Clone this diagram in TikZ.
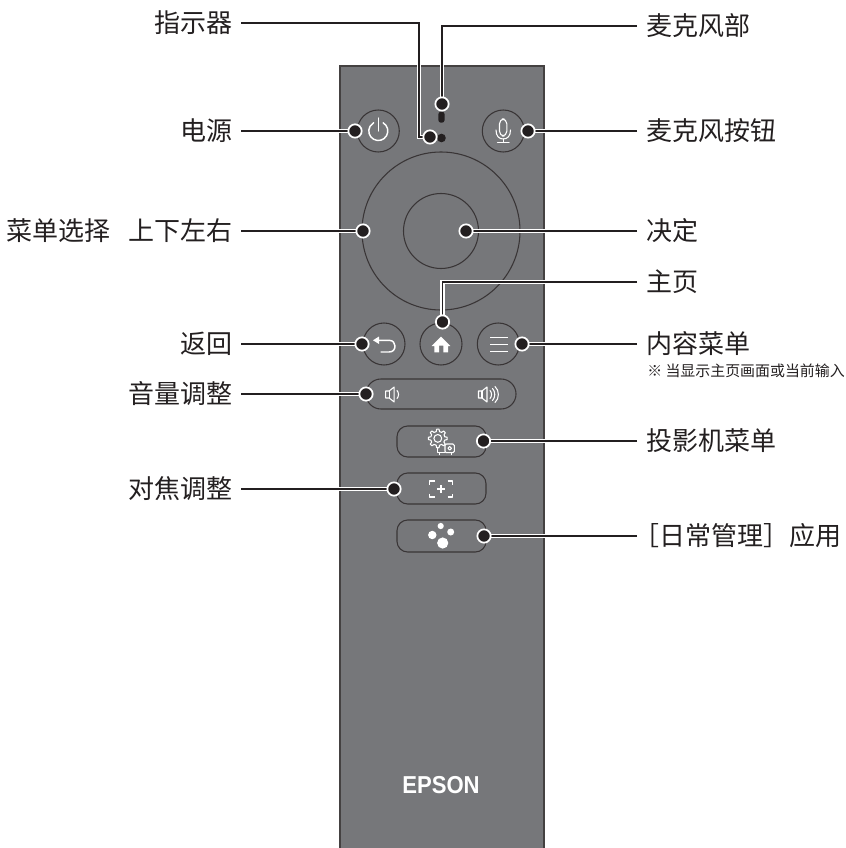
\documentclass[tikz,border=0pt]{standalone}
\usepackage{fontspec}
\setmainfont{Liberation Sans}
\newfontfamily\cjk{Noto Sans CJK SC}
\definecolor{ink}{HTML}{231F20}
\definecolor{bodygrey}{HTML}{76777A}
\tikzset{
  lblbase/.style={text=ink,font=\cjk\fontsize{19.5}{21}\selectfont,text height=17.2pt,text depth=2.3pt,inner ysep=0pt},
  leftlbl/.style={lblbase,anchor=east,inner xsep=6pt},
  rightlbl/.style={lblbase,anchor=west,inner xsep=6.75pt},
  conn/.style={draw=ink,line width=1.2pt,preaction={draw=white,line width=3.4pt}},
  dotmark/.style={circle,fill=ink,draw=white,line width=1.3pt,inner sep=0pt,minimum size=10pt},
  outline/.style={draw=ink!90!white,line width=0.8pt},
  icon/.style={draw=white,line width=1.1pt,line cap=round,line join=round},
  thinicon/.style={draw=white,line width=0.8pt,line cap=round,line join=round},
}
\newcommand{\speakerat}[2]{%
  \draw[thinicon] (#1,#2-3.5) -- (#1+3.5,#2-3.5) -- (#1+8.5,#2-7.5) -- (#1+8.5,#2+7.5) -- (#1+3.5,#2+3.5) -- (#1,#2+3.5) -- cycle;
  \draw[thinicon] (#1+3.5,#2-3.5) -- (#1+3.5,#2+3.5);
}
\begin{document}
\begin{tikzpicture}[x=0.75pt,y=-0.75pt]
\useasboundingbox (0,0) rectangle (845,848);
\begin{scope}
\clip (0,0) rectangle (845,848);
\draw[fill=bodygrey,draw=ink!85!white,line width=0.8pt] (340,66) rectangle (544,860);
\end{scope}
% buttons
\draw[outline] (378.3,131) circle (21);
\draw[outline] (503.3,131) circle (21);
\draw[outline] (441,231) circle (79);
\draw[outline] (441,231) circle (37.5);
\draw[outline] (384,344) circle (21);
\draw[outline] (441,344) circle (21);
\draw[outline] (498.3,344) circle (21);
\draw[outline,rounded corners=11.2pt] (366,379) rectangle (516,409);
\draw[outline,rounded corners=8pt] (397,426) rectangle (486,457);
\draw[outline,rounded corners=8pt] (397,473) rectangle (486,504);
\draw[outline,rounded corners=8pt] (397,520) rectangle (486,552);
% mic slot and LED
\fill[ink,rounded corners=2pt] (438.3,111.7) rectangle (444.6,122.7);
\fill[ink] (441.5,138) circle (4.3);
% power
\draw[icon] (378.3,118) -- (378.3,131);
\draw[icon] (383.05,122.77) arc[start angle=-60,end angle=240,radius=9.5];
% mic
\draw[thinicon,rounded corners=3.5pt] (499.5,119) rectangle (506.8,136);
\draw[thinicon] (496,130) .. controls (496,136) and (499,139) .. (503.2,139) .. controls (507.5,139) and (510.5,136) .. (510.5,130);
\draw[thinicon] (503.2,139) -- (503.2,142.5) (497.5,142.5) -- (509,142.5);
% back arrow
\fill[white] (373,340.3) -- (379,336.5) -- (379,344) -- cycle;
\draw[icon] (378,340.3) -- (389,340.3) .. controls (393,340.3) and (395,343) .. (395,346) .. controls (395,349.5) and (393,352) .. (389,352) -- (381,352);
% home
\fill[white] (431.7,346) -- (441,336.7) -- (450.3,346) -- (448,346) -- (448,352.3) -- (443.3,352.3) -- (443.3,345.5) -- (439,345.5) -- (439,352.3) -- (434.3,352.3) -- (434.3,346) -- cycle;
% hamburger
\draw[icon,line cap=butt] (490,337.7) -- (507.7,337.7) (490,344.7) -- (507.7,344.7) (490,351.7) -- (507.7,351.7);
% speakers
\speakerat{385.7}{394.5}
\draw[thinicon] (397,390.5) .. controls (399,392.5) and (399,396.5) .. (397,398.5);
\speakerat{478.5}{394.5}
\draw[thinicon] (490,390.5) .. controls (492,392.5) and (492,396.5) .. (490,398.5);
\draw[thinicon] (492.5,388.5) .. controls (495.5,391.5) and (495.5,397.5) .. (492.5,400.5);
\draw[thinicon] (495,386.5) .. controls (499.5,390.5) and (499.5,398.5) .. (495,402.5);
% gear
\draw[thinicon] plot[smooth cycle,tension=0.15] coordinates {
(436.7,429.2)(439,429.2)(439.5,431.6)(441.6,432.4)(443.6,431)(445.3,432.7)(444,434.7)(444.7,436.8)(447.1,437.2)(447.1,439.6)(444.7,440.1)(443.9,442.1)(445.3,444.1)(443.6,445.8)(441.6,444.4)(439.5,445.3)(439,447.7)(436.6,447.7)(436.2,445.3)(434,444.4)(432,445.8)(430.3,444.1)(431.7,442.1)(430.9,440.1)(428.5,439.6)(428.5,437.2)(430.9,436.8)(431.6,434.7)(430.3,432.7)(432,431)(434,432.4)(436.2,431.6)};
\draw[thinicon] (437.8,438.4) circle (3.9);
% projector
\draw[thinicon,rounded corners=1pt] (445,444) rectangle (454.3,452.7);
\draw[thinicon] (449.7,448.3) circle (1.8);
\draw[thinicon] (437.3,447.5) -- (437.3,452.7) -- (445,452.7);
\draw[thinicon] (439.5,453) -- (439.5,454.5) (451.5,453) -- (451.5,454.5);
% focus icon
\draw[thinicon,line cap=butt] (429.5,484.5) -- (429.5,481) -- (434.5,481) (447.5,481) -- (452.5,481) -- (452.5,484.5)
  (429.5,493.5) -- (429.5,497) -- (434.5,497) (447.5,497) -- (452.5,497) -- (452.5,493.5);
\draw[thinicon,line cap=butt] (437,489) -- (445,489) (441,485) -- (441,493);
% routine icon
\fill[white] (432.3,535) circle (4.2) (440.7,526) circle (3.1) (450.7,532) circle (3.5) (442.7,543) circle (5.6);
% brand
\node[inner sep=0pt,text=white] (brand) at (441,785) {\scalebox{0.92}[1.02]{\fontsize{18}{20}\bfseries\selectfont EPSON}};
% labels
\node[leftlbl] (lInd) at (241,23) {指示器};
\node[leftlbl] (lPow) at (241,131) {电源};
\node[leftlbl] (lSel) at (241,231) {菜单选择\hspace{13.5pt}\hspace{0pt}上下左右};
\node[leftlbl] (lBack) at (241,344) {返回};
\node[leftlbl] (lVol) at (241,394) {音量调整};
\node[leftlbl] (lFoc) at (241,489) {对焦调整};
\node[rightlbl] (lMicP) at (637,26) {麦克风部};
\node[rightlbl] (lMicB) at (637,131) {麦克风按钮};
\node[rightlbl] (lOk) at (637,231) {决定};
\node[rightlbl] (lHome) at (637,282) {主页};
\node[rightlbl] (lMenu) at (637,344) {内容菜单};
\node[rightlbl] (lProj) at (637,441) {投影机菜单};
\node[rightlbl] (lRout) at (637,536) {\hspace{-9.5pt}［日常管理］\hspace{0pt}应用};
\node[anchor=west,inner sep=0pt,text=ink,font=\cjk\fontsize{11.2}{12}\selectfont] (note) at (647,371) {※ 当显示主页画面或当前输入};
% connector ends
\coordinate (bInd) at (419,137);
\coordinate (pInd) at (430,137);
\coordinate (pMicP) at (442,104);
\coordinate (pPow) at (355,131);
\coordinate (pMicB) at (528,131);
\coordinate (pSel) at (363,231);
\coordinate (pOk) at (466,231);
\coordinate (pHome) at (442.5,322);
\coordinate (pBack) at (362,344);
\coordinate (pMenu) at (522,344);
\coordinate (pVol) at (366,394);
\coordinate (pProj) at (483.5,441);
\coordinate (pFoc) at (394,489);
\coordinate (pRout) at (484,536);
% connectors
\draw[conn] (lInd.east) -| (bInd) -- (pInd);
\draw[conn] (lMicP.west) -| (pMicP);
\draw[conn] (lPow.east) -- (pPow);
\draw[conn] (lMicB.west) -- (pMicB);
\draw[conn] (lSel.east) -- (pSel);
\draw[conn] (lOk.west) -- (pOk);
\draw[conn] (lHome.west) -| (pHome);
\draw[conn] (lBack.east) -- (pBack);
\draw[conn] (lMenu.west) -- (pMenu);
\draw[conn] (lVol.east) -- (pVol);
\draw[conn] (lProj.west) -- (pProj);
\draw[conn] (lFoc.east) -- (pFoc);
\draw[conn] (lRout.west) -- (pRout);
% dots
\foreach \p in {pInd,pMicP,pPow,pMicB,pSel,pOk,pHome,pBack,pMenu,pVol,pProj,pFoc,pRout}
  \node[dotmark] (d\p) at (\p) {};
\end{tikzpicture}
\end{document}
